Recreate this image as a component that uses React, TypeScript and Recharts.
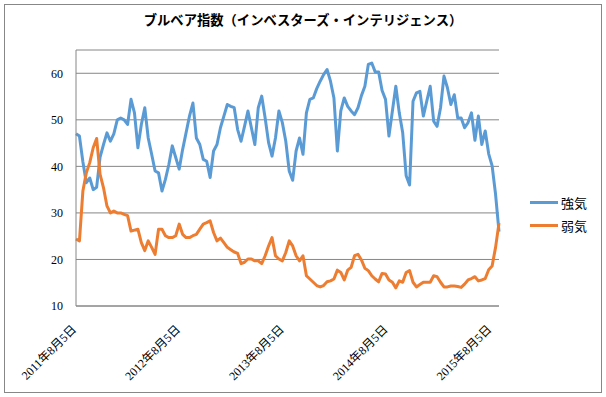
import { LineChart, Line, XAxis, YAxis, CartesianGrid } from "recharts";

// 2011/8/5 〜 2015/9 のブル・ベア比率（%）。画像から読み取った値
const bullish = [
  47, 46.5, 41, 36.5, 37.5, 35, 35.5, 42, 44.7, 47.2, 45.4, 47, 50, 50.4, 50, 49, 54.4, 51.5, 44, 49, 52.6,
  46.1, 42.6, 39, 38.6, 34.7, 37.2, 40.4, 44.4, 41.9, 39.4, 43.6, 47.2, 50.8, 53.6, 46.1, 44.7, 41.5, 41.1, 37.6, 43.3,
  44.7, 48.3, 50.8, 53.3, 52.9, 52.6, 47.9, 45.4, 48.6, 51.9, 48.3, 44.7, 52.6, 55.1, 50.4, 45.1, 42.2, 46.1, 51.9, 49.4, 45.4,
  39, 37, 43.3, 46.1, 42.6, 51.5, 54.4, 54.7, 56.7, 58.3, 59.7, 60.8, 58.3, 54.7, 43.3, 51.9, 54.7, 52.9, 51.9, 51.1,
  52.6, 55.2, 57.2, 61.9, 62.2, 60.3, 60.3, 56.3, 54.4, 46.5, 51.9, 57.2, 51.5, 47.2, 38, 36, 54, 55.8, 56.1, 50.8, 54,
  57.2, 49.7, 48.6, 52.6, 59.4, 56.9, 53.3, 55.4, 50.4, 50.4, 48.3, 49.4, 51.5, 45.6, 50.8, 44.7, 47.6, 42.7, 40.1, 34, 26,
];

const bearish = [
  24.4, 24, 34.7, 38.6, 40.8, 44, 46, 38.3, 35.4, 31.5, 30, 30.4, 30, 30, 29.7, 29.4, 26.1, 26.3, 26.5, 23.6, 21.9,
  24, 22.6, 21.1, 26.5, 26.5, 25.1, 24.7, 24.7, 25.1, 27.6, 25.4, 24.7, 24.7, 25.1, 25.4, 26.5, 27.6, 27.9, 28.3, 25.8,
  24, 24.6, 23.6, 22.6, 22.1, 21.6, 21.3, 19.1, 19.4, 20.1, 20.1, 19.7, 19.7, 19.1, 20.8, 22.9, 24.7, 20.8, 20.1, 19.7, 21.5,
  24, 22.9, 20.8, 19.7, 20.8, 16.5, 15.8, 15.1, 14.4, 14.1, 14.4, 15.2, 15.4, 15.8, 17.7, 17.2, 15.6, 17.7, 18.3, 20.8,
  21.1, 19.9, 18.1, 17.6, 16.5, 15.8, 15.2, 17, 16.9, 15.6, 15.1, 13.9, 15.4, 15.1, 17.2, 17.6, 15.1, 14.1, 14.6, 15.1, 15.1,
  15.1, 16.5, 16.3, 15.1, 14.1, 14.1, 14.3, 14.3, 14.2, 14, 14.7, 15.6, 15.9, 16.3, 15.4, 15.6, 15.9, 17.8, 18.6, 22.6, 27.8,
];

const seriesNames = ["強気", "弱気"];
const colors = ["#5B9BD5", "#ED7D31"];

// x軸は2011/8/5からの日数
const tickDays = [0, 366, 731, 1096, 1461];
const tickLabels = ["2011年8月5日", "2012年8月5日", "2013年8月5日", "2014年8月5日", "2015年8月5日"];
const lastDay = 1488;
const yTicks = [10, 20, 30, 40, 50, 60];

const title = "ブルベア指数（インベスターズ・インテリジェンス）";

const data = bullish.map((v, i) => ({
  day: (i * lastDay) / (bullish.length - 1),
  bull: v,
  bear: bearish[i],
}));

const serif = "'Liberation Serif', 'Noto Sans CJK JP', serif";
const gothic = "'Noto Sans CJK JP', sans-serif";

const DateTick = (props: any) => {
  const { x, y, payload } = props;
  const idx = tickDays.indexOf(payload.value);
  const px = x + 1;
  const py = y + 24;
  return (
    <text
      x={px}
      y={py}
      transform={`rotate(-45 ${px} ${py})`}
      textAnchor="end"
      fontSize={12}
      fontFamily={serif}
      fill="#000"
    >
      {tickLabels[idx]}
    </text>
  );
};

export default function App() {
  return (
    <div
      style={{
        position: "absolute",
        left: 0,
        top: 0,
        width: 606,
        height: 397,
        background: "#fff",
      }}
    >
      {/* chart area border */}
      <div
        style={{
          position: "absolute",
          left: 4,
          top: 4,
          width: 598,
          height: 389,
          border: "1px solid #878787",
          boxSizing: "border-box",
        }}
      />
      <div
        style={{
          position: "absolute",
          left: 0,
          top: 13,
          width: 606,
          textAlign: "center",
          fontFamily: gothic,
          fontWeight: "bold",
          fontSize: 13.3,
          lineHeight: "14px",
          color: "#000",
        }}
      >
        {title}
      </div>

      <div style={{ position: "absolute", left: 0, top: 0 }}>
        <LineChart
          width={606}
          height={397}
          data={data}
          margin={{ top: 50, right: 107, bottom: 0, left: 0 }}
        >
          <CartesianGrid horizontal vertical={false} stroke="#868686" strokeWidth={1} />
          <XAxis
            dataKey="day"
            type="number"
            domain={[0, lastDay]}
            ticks={tickDays}
            interval={0}
            height={91}
            tickLine={false}
            tickSize={0}
            tickMargin={0}
            axisLine={{ stroke: "#868686" }}
            tick={<DateTick />}
          />
          <YAxis
            type="number"
            domain={[10, 65]}
            ticks={yTicks}
            interval={0}
            width={76}
            tickLine={false}
            tickSize={0}
            tickMargin={13}
            axisLine={{ stroke: "#868686" }}
            tick={{ fill: "#000", fontSize: 12, fontFamily: serif }}
          />
          <Line
            dataKey="bull"
            name={seriesNames[0]}
            type="linear"
            stroke={colors[0]}
            strokeWidth={3}
            strokeLinejoin="round"
            dot={false}
            isAnimationActive={false}
          />
          <Line
            dataKey="bear"
            name={seriesNames[1]}
            type="linear"
            stroke={colors[1]}
            strokeWidth={3}
            strokeLinejoin="round"
            dot={false}
            isAnimationActive={false}
          />
        </LineChart>
      </div>

      {/* legend */}
      {seriesNames.map((name, i) => (
        <div
          key={name}
          style={{
            position: "absolute",
            left: 530,
            top: 193 + i * 23.5,
            height: 18,
            display: "flex",
            alignItems: "center",
            fontFamily: gothic,
            fontSize: 13,
            color: "#000",
          }}
        >
          <div style={{ width: 28, height: 3, background: colors[i], marginRight: 3 }} />
          <span>{name}</span>
        </div>
      ))}
    </div>
  );
}
